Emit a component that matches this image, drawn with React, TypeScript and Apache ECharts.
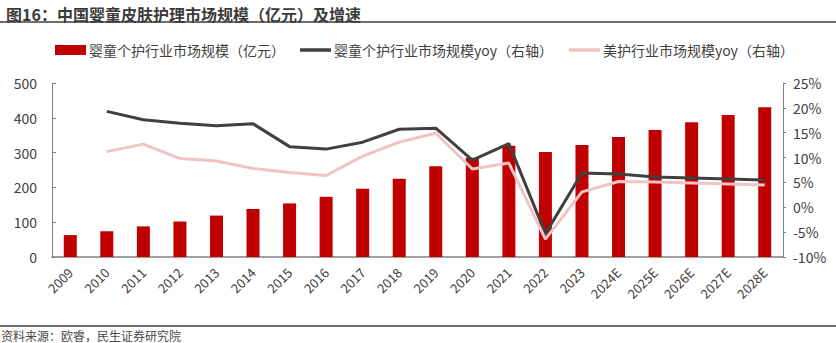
import React, { useEffect, useRef } from "react";
import * as echarts from "echarts";

const categories = ["2009","2010","2011","2012","2013","2014","2015","2016","2017","2018","2019","2020","2021","2022","2023","2024E","2025E","2026E","2027E","2028E"];
const marketSize = [63, 74, 88, 102, 119, 138, 154, 173, 196, 225, 261, 285, 320, 302, 322, 345, 365, 387, 408, 430];
const babyYoy = [null, 19.3, 17.6, 16.9, 16.4, 16.8, 12.2, 11.7, 13.1, 15.7, 15.9, 9.5, 12.8, -5.3, 6.9, 6.7, 6.1, 5.9, 5.7, 5.5];
const beautyYoy = [null, 11.2, 12.7, 9.8, 9.3, 7.8, 7.0, 6.4, 10.3, 13.1, 14.9, 7.7, 8.9, -6.4, 3.1, 5.2, 5.1, 4.9, 4.7, 4.5];

const FONT = "'Noto Sans CJK SC', 'Noto Sans', sans-serif";
const NAME_BAR = "婴童个护行业市场规模（亿元）";
const NAME_BABY = "婴童个护行业市场规模yoy（右轴）";
const NAME_BEAUTY = "美护行业市场规模yoy（右轴）";

export default function App() {
  const ref = useRef<HTMLDivElement>(null);
  useEffect(() => {
    const chart = echarts.init(ref.current!, null, { renderer: "svg" });
    const legendText = { fontSize: 14, color: "#404040", fontFamily: FONT, padding: [0, 0, 0, -2] };
    chart.setOption({
      animation: false,
      textStyle: { fontFamily: FONT },
      title: {
        text: "图16：中国婴童皮肤护理市场规模（亿元）及增速",
        left: 1,
        top: 1,
        textStyle: { fontSize: 16, fontWeight: "bold", color: "#3a3a3a", fontFamily: FONT },
      },
      graphic: [
        { type: "line", shape: { x1: 0, y1: 22, x2: 836, y2: 22 }, style: { stroke: "#6e6e6e", lineWidth: 2 } },
        { type: "line", shape: { x1: 0, y1: 326, x2: 836, y2: 326 }, style: { stroke: "#6e6e6e", lineWidth: 2 } },
        { type: "text", left: 1, top: 329, style: { text: "资料来源：欧睿，民生证券研究院", fontSize: 12, fill: "#4a4a4a", fontFamily: FONT } },
      ],
      legend: [
        {
          top: 38,
          left: 50,
          itemWidth: 31,
          itemHeight: 10,
          textStyle: legendText,
          data: [{ name: NAME_BAR, icon: "rect" }],
        },
        {
          top: 38,
          left: 295,
          itemGap: 16,
          itemWidth: 31,
          itemHeight: 3.5,
          textStyle: legendText,
          data: [
            { name: NAME_BABY, icon: "rect" },
            { name: NAME_BEAUTY, icon: "rect" },
          ],
        },
      ],
      grid: { left: 52, right: 53, top: 83, bottom: 86, containLabel: false },
      xAxis: {
        type: "category",
        data: categories,
        axisLine: { lineStyle: { color: "#808080", width: 1.5 } },
        axisTick: { show: false },
        axisLabel: { rotate: 45, fontSize: 13, color: "#404040", margin: 13, interval: 0 },
      },
      yAxis: [
        {
          type: "value",
          min: 0,
          max: 500,
          interval: 100,
          axisLine: { show: true, lineStyle: { color: "#808080" } },
          axisTick: { show: true, length: 4, inside: true, lineStyle: { color: "#808080" } },
          splitLine: { show: false },
          axisLabel: { fontSize: 14, color: "#404040", margin: 15 },
        },
        {
          type: "value",
          min: -10,
          max: 25,
          interval: 5,
          axisLine: { show: true, lineStyle: { color: "#808080" } },
          axisTick: { show: true, length: 3, lineStyle: { color: "#808080" } },
          splitLine: { show: false },
          axisLabel: { fontSize: 14, color: "#404040", margin: 10, formatter: "{value}%" },
        },
      ],
      series: [
        {
          name: NAME_BAR,
          type: "bar",
          data: marketSize,
          barWidth: 13,
          itemStyle: { color: "#c00000" },
        },
        {
          name: NAME_BABY,
          type: "line",
          yAxisIndex: 1,
          data: babyYoy,
          symbol: "none",
          lineStyle: { color: "#404040", width: 3 },
          itemStyle: { color: "#404040" },
        },
        {
          name: NAME_BEAUTY,
          type: "line",
          yAxisIndex: 1,
          data: beautyYoy,
          symbol: "none",
          lineStyle: { color: "#f0c4c4", width: 3 },
          itemStyle: { color: "#f0c4c4" },
        },
      ],
    });
    return () => chart.dispose();
  }, []);
  return <div ref={ref} style={{ position: "fixed", left: 0, top: 0, width: 836, height: 343, background: "#fff" }} />;
}
